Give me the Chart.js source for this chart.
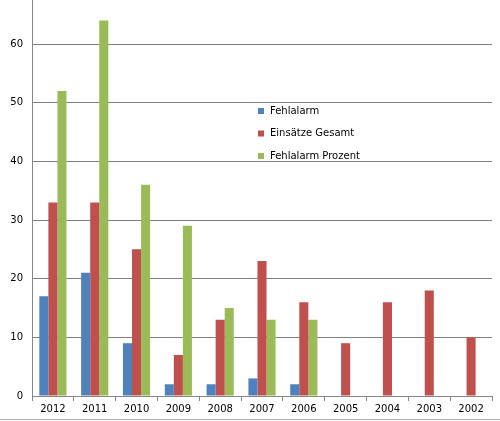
<!DOCTYPE html>
<html>
<head>
<meta charset="utf-8">
<script src="https://cdn.jsdelivr.net/npm/chart.js@4"></script>
<style>
html,body{margin:0;padding:0;background:#fff;}
#wrap{width:500px;height:421px;position:relative;}
</style>
</head>
<body>
<div id="wrap"><canvas id="c" width="500" height="421"></canvas></div>
<script>
const categories = ['2012','2011','2010','2009','2008','2007','2006','2005','2004','2003','2002'];
const fehlalarm = [17, 21, 9, 2, 2, 3, 2, null, null, null, null];
const einsaetze = [33, 33, 25, 7, 13, 23, 16, 9, 16, 18, 10];
const prozent = [52, 64, 36, 29, 15, 13, 13, null, null, null, null];
const seriesNames = ['Fehlalarm', 'Einsätze Gesamt', 'Fehlalarm Prozent'];
const seriesColors = ['#4F81BD', '#C0504D', '#9BBB59'];

const FONT = 'DejaVu Sans, Verdana, sans-serif';

const legendPlugin = {
  id: 'innerLegend',
  afterDraw(chart) {
    const ctx = chart.ctx;
    ctx.save();
    ctx.font = '10px ' + FONT;
    ctx.textBaseline = 'middle';
    ctx.textAlign = 'left';
    const x0 = 258, y0 = 111, step = 22.5;
    chart.data.datasets.forEach((ds, i) => {
      const y = y0 + i * step;
      ctx.fillStyle = ds.backgroundColor;
      ctx.fillRect(x0, y - 3, 6, 6);
      ctx.fillStyle = '#000';
      ctx.fillText(ds.label, x0 + 12, y);
    });
    ctx.strokeStyle = '#b0b0b0';
    ctx.lineWidth = 1;
    ctx.beginPath();
    ctx.moveTo(0, 419.5);
    ctx.lineTo(500, 419.5);
    ctx.stroke();
    ctx.restore();
  }
};

new Chart(document.getElementById('c'), {
  type: 'bar',
  data: {
    labels: categories,
    datasets: [
      { label: seriesNames[0], data: fehlalarm, backgroundColor: seriesColors[0] },
      { label: seriesNames[1], data: einsaetze, backgroundColor: seriesColors[1] },
      { label: seriesNames[2], data: prozent, backgroundColor: seriesColors[2] }
    ]
  },
  options: {
    responsive: false,
    animation: false,
    devicePixelRatio: 1,
    layout: { padding: { left: 0, right: 8, top: 0, bottom: 0 } },
    datasets: { bar: { categoryPercentage: 0.65, barPercentage: 1.0, borderWidth: 0 } },
    plugins: { legend: { display: false }, tooltip: { enabled: false } },
    scales: {
      x: {
        grid: { offset: true, drawOnChartArea: false, drawTicks: true, tickLength: 5, color: '#868686' },
        border: { color: '#868686' },
        ticks: { color: '#000', font: { family: FONT, size: 10 }, padding: 2, maxRotation: 0, autoSkip: false },
        afterFit(s) { s.height = 25; s.paddingLeft = 0; s.paddingRight = 0; }
      },
      y: {
        min: 0,
        max: 67.5,
        afterBuildTicks(axis) {
          axis.ticks = [0,10,20,30,40,50,60].map(v => ({ value: v }));
        },
        grid: { color: '#808080', drawTicks: false },
        border: { color: '#868686' },
        ticks: { color: '#000', font: { family: FONT, size: 10 }, padding: 9 },
        afterFit(s) { s.width = 32; s.paddingTop = 0; s.paddingBottom = 0; }
      }
    }
  },
  plugins: [legendPlugin]
});
</script>
</body>
</html>
